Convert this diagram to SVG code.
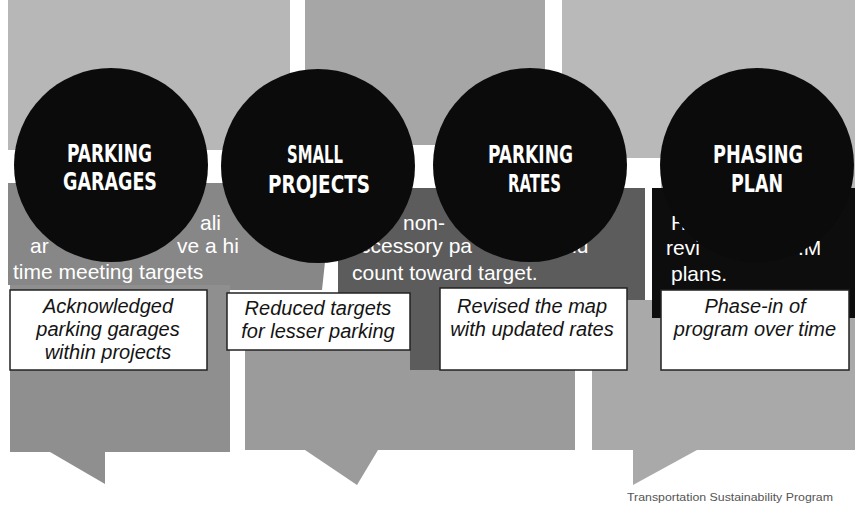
<svg xmlns="http://www.w3.org/2000/svg" width="856" height="521" viewBox="0 0 856 521">
  <style>
    .circ { fill: #0b0b0b; }
    .lbl { font-family: "Liberation Sans Narrow", "DejaVu Sans Condensed", "Liberation Sans", sans-serif; font-weight: bold; font-size: 25px; fill: #ffffff; }
    .box { fill: #ffffff; stroke: #222222; stroke-width: 1.5; }
    .btxt { font-family: "Liberation Sans", Arial, sans-serif; font-style: italic; font-size: 20px; fill: #141414; text-anchor: middle; }
    .wtxt { font-family: "Liberation Sans", Arial, sans-serif; font-size: 21px; fill: #ffffff; }
    .foot { font-family: "Liberation Sans", Arial, sans-serif; font-size: 11px; fill: #555555; }
  </style>
  <rect width="856" height="521" fill="#ffffff"/>

  <g id="panels">
    <!-- top sections -->
    <rect x="8" y="0" width="282" height="150" fill="#b7b7b7"/>
    <rect x="305" y="0" width="240" height="145" fill="#a6a6a6"/>
    <rect x="562" y="0" width="293" height="158" fill="#b9b9b9"/>
    <rect x="661" y="158" width="194" height="30" fill="#b9b9b9"/>
    <!-- bottom sections -->
    <rect x="10" y="285" width="220" height="167" fill="#8f8f8f"/>
    <rect x="245" y="293" width="330" height="157" fill="#9b9b9b"/>
    <rect x="592" y="300" width="263" height="150" fill="#a9a9a9"/>
    <!-- middle sections -->
    <polygon points="8,183 325,183 325,262 322,290 230,290 230,285 8,285" fill="#878787"/>
    <polygon points="338,188 645,188 645,300 627,300 627,370 410,370 410,293 338,293" fill="#5c5c5c"/>
    <rect x="652" y="188" width="203" height="130" fill="#0d0d0d"/>
  </g>

  <g id="pointers">
    <polygon points="50,452 105,452 105,484" fill="#8f8f8f"/>
    <polygon points="305,450 378,450 357,485" fill="#9b9b9b"/>
    <polygon points="633,450 697,450 633,485" fill="#a9a9a9"/>
  </g>

  <g id="notes">
    <text class="wtxt" x="200" y="230">ali</text>
    <text class="wtxt" x="30" y="253">ar</text>
    <text class="wtxt" x="177" y="253">ve a hi</text>
    <text class="wtxt" x="13" y="279">time meeting targets</text>
    <text class="wtxt" x="403" y="230">non-</text>
    <text class="wtxt" x="360" y="253">ccessory pa</text>
    <text class="wtxt" x="572" y="253">ld</text>
    <text class="wtxt" x="352" y="280">count toward  target.</text>
    <text class="wtxt" x="671" y="230">H</text>
    <text class="wtxt" x="666" y="255">revi</text>
    <text class="wtxt" x="798" y="255">.M</text>
    <text class="wtxt" x="671" y="281">plans.</text>
  </g>

  <g id="parking-garages">
    <rect class="box" x="10" y="290" width="197" height="80"/>
    <text class="btxt" x="108" y="313">Acknowledged</text>
    <text class="btxt" x="108" y="336">parking garages</text>
    <text class="btxt" x="108" y="359">within projects</text>
    <circle class="circ" cx="111" cy="165" r="97"/>
    <text class="lbl" x="67" y="162" textLength="85" lengthAdjust="spacingAndGlyphs">PARKING</text>
    <text class="lbl" x="63" y="190" textLength="94" lengthAdjust="spacingAndGlyphs">GARAGES</text>
  </g>

  <g id="small-projects">
    <rect class="box" x="227" y="293" width="183" height="57"/>
    <text class="btxt" x="318" y="315">Reduced targets</text>
    <text class="btxt" x="318" y="338">for lesser parking</text>
    <circle class="circ" cx="318" cy="166" r="97"/>
    <text class="lbl" x="287" y="163" textLength="56" lengthAdjust="spacingAndGlyphs">SMALL</text>
    <text class="lbl" x="268" y="193" textLength="102" lengthAdjust="spacingAndGlyphs">PROJECTS</text>
  </g>

  <g id="parking-rates">
    <rect class="box" x="440" y="288" width="187" height="82"/>
    <text class="btxt" x="532" y="313">Revised the map</text>
    <text class="btxt" x="532" y="336">with updated rates</text>
    <circle class="circ" cx="530" cy="165" r="97"/>
    <text class="lbl" x="488" y="163" textLength="85" lengthAdjust="spacingAndGlyphs">PARKING</text>
    <text class="lbl" x="508" y="192" textLength="53" lengthAdjust="spacingAndGlyphs">RATES</text>
  </g>

  <g id="phasing-plan">
    <rect class="box" x="661" y="290" width="188" height="80"/>
    <text class="btxt" x="755" y="313">Phase-in of</text>
    <text class="btxt" x="755" y="336">program over time</text>
    <circle class="circ" cx="757" cy="165" r="97"/>
    <text class="lbl" x="713" y="163" textLength="90" lengthAdjust="spacingAndGlyphs">PHASING</text>
    <text class="lbl" x="731" y="192" textLength="52" lengthAdjust="spacingAndGlyphs">PLAN</text>
  </g>

  <g id="connectors"></g>

  <text class="foot" x="627" y="501" textLength="206" lengthAdjust="spacingAndGlyphs">Transportation Sustainability Program</text>
</svg>
